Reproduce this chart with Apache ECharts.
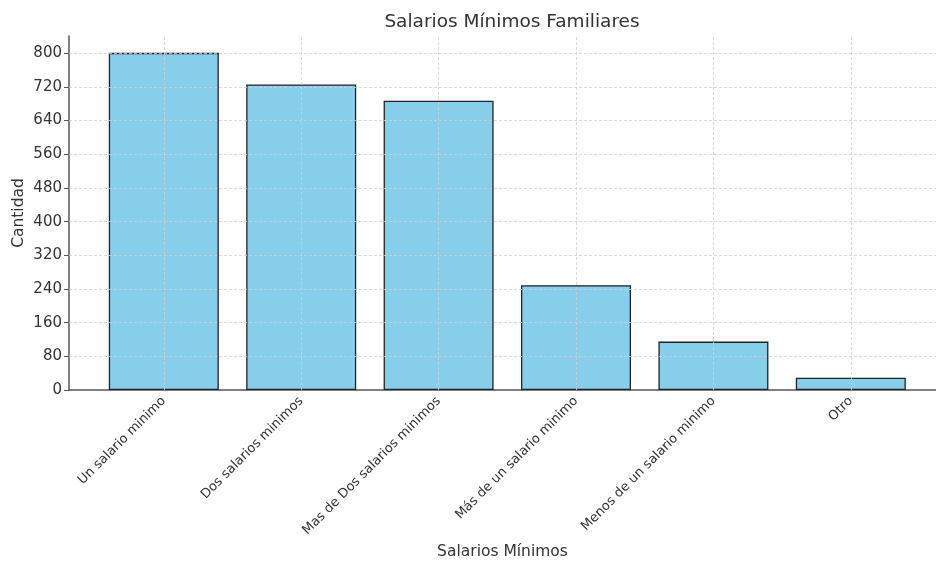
<!DOCTYPE html>
<html>
<head>
<meta charset="utf-8">
<script src="https://cdn.jsdelivr.net/npm/echarts@6/dist/echarts.min.js"></script>
<style>html,body{margin:0;padding:0;background:#fff}#c{width:936px;height:561px}</style>
</head>
<body>
<div id="c"></div>
<script>
const categories = ["Un salario minimo", "Dos salarios minimos", "Mas de Dos salarios minimos", "Más de un salario minimo", "Menos de un salario minimo", "Otro"];
const values = [801, 726, 687, 249, 115, 29];
const yTicks = [0, 80, 160, 240, 320, 400, 480, 560, 640, 720, 800];
const positions = categories.map((c, i) => i);

const font = "DejaVu Sans";
const chart = echarts.init(document.getElementById('c'), null, {renderer: 'canvas'});
chart.setOption({
  animation: false,
  textStyle: {fontFamily: font},
  title: {
    text: "Salarios Mínimos Familiares",
    left: 507, top: 8, textAlign: 'center',
    textStyle: {fontFamily: font, fontSize: 18.5, fontWeight: 'normal', color: '#333'}
  },
  grid: {left: 69, right: 0, top: 36, bottom: 171, containLabel: false, outerBoundsMode: 'none'},
  xAxis: {
    type: 'value', min: -0.69, max: 5.62,
    name: "Salarios Mínimos", nameLocation: 'middle', nameGap: 154, nameMoveOverlap: false,
    nameTextStyle: {fontFamily: font, fontSize: 15.5, color: '#333'},
    axisLine: {show: true, onZero: false, lineStyle: {color: '#555', width: 1.5}},
    axisTick: {show: true, inside: true, length: 4, customValues: positions, lineStyle: {color: '#555'}},
    axisLabel: {
      customValues: positions, rotate: 45, fontSize: 13, color: '#333', margin: 9,
      formatter: v => categories[Math.round(v)]
    },
    splitLine: {show: false}
  },
  yAxis: {
    type: 'value', min: 0, max: 841,
    name: "Cantidad", nameLocation: 'middle', nameGap: 42, nameRotate: 90, nameMoveOverlap: false,
    nameTextStyle: {fontFamily: font, fontSize: 15.5, color: '#333'},
    axisLine: {show: true, onZero: false, lineStyle: {color: '#555', width: 1.5}},
    axisTick: {show: true, length: 5, customValues: yTicks, lineStyle: {color: '#555'}},
    axisLabel: {customValues: yTicks, fontSize: 15, color: '#333', margin: 7},
    splitLine: {show: false}
  },
  series: [
    {
      type: 'bar',
      data: positions.map((p, i) => [p, values[i]]),
      barWidth: 110,
      itemStyle: {color: '#87CEEB', borderColor: '#222', borderWidth: 1.3},
      z: 3
    },
    {
      type: 'line', data: [], silent: true,
      markLine: {
        symbol: 'none', silent: true, label: {show: false},
        lineStyle: {color: '#d0d0d0', type: [3, 2], width: 0.8},
        data: positions.map(p => ({xAxis: p})).concat(yTicks.filter(v => v > 0).map(v => ({yAxis: v})))
      },
      z: 1
    }
  ]
});
</script>
</body>
</html>
